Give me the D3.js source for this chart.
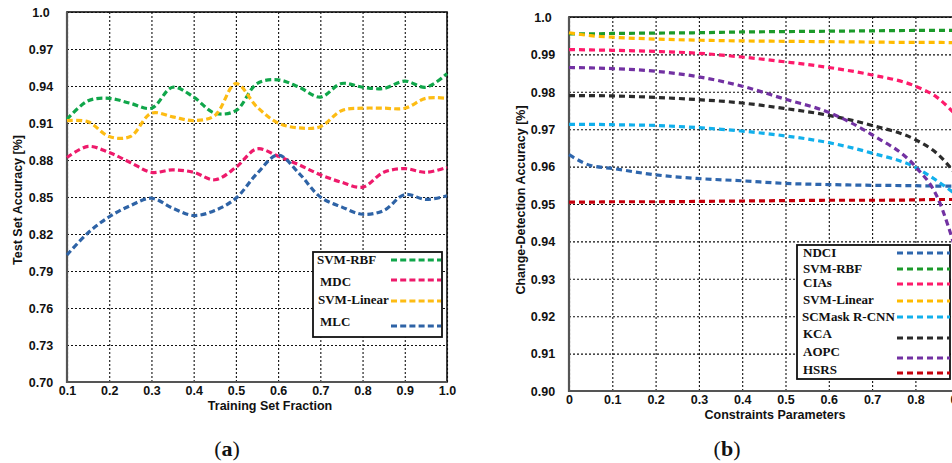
<html>
  <head>
    <style>
      body { margin: 0; background: #fff; }
      .tk { font-family: "Liberation Sans", Arial, sans-serif; font-weight: bold; font-size: 12.5px; fill: #111; }
      .ttl { font-family: "Liberation Sans", Arial, sans-serif; font-weight: bold; font-size: 12.5px; fill: #111; }
      .leg { font-family: "Liberation Serif", "Times New Roman", serif; font-weight: bold; font-size: 13px; fill: #111; }
      .cap { font-family: "Liberation Serif", "Times New Roman", serif; font-size: 22px; fill: #111; }
    </style>
  </head>
  <body>
    <svg id="chart" width="952" height="463"></svg>
    <script src="https://d3js.org/d3.v7.min.js"></script>
    <script>
    // ---- panel (a) data
    var fracA = [0.1, 0.15, 0.2, 0.25, 0.3, 0.35, 0.4, 0.45, 0.5, 0.55, 0.6, 0.65, 0.7, 0.75, 0.8, 0.85, 0.9, 0.95, 1.0];
    var svmRbfA = [0.913, 0.928, 0.930, 0.926, 0.922, 0.939, 0.931, 0.918, 0.920, 0.942, 0.945, 0.939, 0.931, 0.942, 0.939, 0.938, 0.944, 0.939, 0.950];
    var mdcA    = [0.882, 0.891, 0.886, 0.878, 0.870, 0.872, 0.870, 0.864, 0.874, 0.889, 0.883, 0.876, 0.868, 0.862, 0.858, 0.870, 0.873, 0.870, 0.874];
    var svmLinA = [0.912, 0.911, 0.899, 0.899, 0.918, 0.915, 0.912, 0.916, 0.942, 0.923, 0.910, 0.906, 0.907, 0.920, 0.922, 0.922, 0.922, 0.930, 0.930];
    var mlcA    = [0.803, 0.821, 0.834, 0.843, 0.849, 0.841, 0.835, 0.839, 0.849, 0.869, 0.884, 0.869, 0.850, 0.842, 0.836, 0.839, 0.852, 0.848, 0.851];
    var xTicksA = [0.1, 0.2, 0.3, 0.4, 0.5, 0.6, 0.7, 0.8, 0.9, 1.0];
    var yTicksA = [0.70, 0.73, 0.76, 0.79, 0.82, 0.85, 0.88, 0.91, 0.94, 0.97, 1.0];
    var namesA  = ["SVM-RBF", "MDC", "SVM-Linear", "MLC"];
    var colorsA = ["#10a64a", "#ee1a6b", "#fdbc14", "#2e63a6"];

    // ---- panel (b) data
    var paramB = [0, 0.05, 0.1, 0.2, 0.3, 0.4, 0.5, 0.6, 0.7, 0.8, 0.85, 0.9];
    var ndci    = [0.9632, 0.9603, 0.9595, 0.9578, 0.9568, 0.9562, 0.9555, 0.9552, 0.9550, 0.9549, 0.9548, 0.9548];
    var svmRbfB = [0.9955, 0.9955, 0.9956, 0.9957, 0.9958, 0.9960, 0.9961, 0.9962, 0.9963, 0.9964, 0.9964, 0.9964];
    var cias    = [0.9913, 0.9912, 0.9911, 0.9908, 0.9903, 0.9893, 0.9880, 0.9865, 0.9845, 0.9815, 0.9785, 0.9730];
    var svmLinB = [0.9958, 0.9950, 0.9946, 0.9941, 0.9938, 0.9936, 0.9935, 0.9934, 0.9933, 0.9932, 0.9932, 0.9931];
    var scmask  = [0.9713, 0.9713, 0.9712, 0.9710, 0.9704, 0.9695, 0.9682, 0.9664, 0.9636, 0.9598, 0.9562, 0.9520];
    var kca     = [0.9790, 0.9790, 0.9789, 0.9785, 0.9779, 0.9770, 0.9755, 0.9737, 0.9710, 0.9672, 0.9635, 0.9570];
    var aopc    = [0.9865, 0.9864, 0.9862, 0.9855, 0.9840, 0.9815, 0.9780, 0.9745, 0.9685, 0.9600, 0.9520, 0.9350];
    var hsrs    = [0.9505, 0.9505, 0.9506, 0.9506, 0.9507, 0.9508, 0.9509, 0.9510, 0.9510, 0.9511, 0.9512, 0.9512];
    var xTicksB = [0, 0.1, 0.2, 0.3, 0.4, 0.5, 0.6, 0.7, 0.8, 0.9];
    var yTicksB = [0.90, 0.91, 0.92, 0.93, 0.94, 0.95, 0.96, 0.97, 0.98, 0.99, 1.0];
    var namesB  = ["NDCI", "SVM-RBF", "CIAs", "SVM-Linear", "SCMask R-CNN", "KCA", "AOPC", "HSRS"];
    var colorsB = ["#2e66ad", "#1b9a2a", "#fe1b6b", "#ffbb00", "#12b0ec", "#2b2b2b", "#7231a2", "#c4000c"];

    var svg = d3.select("#chart");
    svg.append("rect").attr("width", 952).attr("height", 463).attr("fill", "#fff");

    function fmt(d) { return d === 1 ? "1.0" : d3.format(".2f")(d); }
    function fmtX(d) { return d === 0 ? "0" : d3.format(".1f")(d); }

    function panel(o) {
      var x = d3.scaleLinear().domain(o.xDomain).range([o.left, o.xEnd]);
      var y = d3.scaleLinear().domain(o.yDomain).range([o.bottom, o.top]);
      var g = svg.append("g");
      var w = o.xEnd - o.left, h = o.bottom - o.top;

      // grid via axes
      var gy = g.append("g").attr("transform", "translate(" + o.left + ",0)")
        .call(d3.axisLeft(y).tickValues(o.yTicks).tickSize(-w).tickFormat(fmt));
      var gx = g.append("g").attr("transform", "translate(0," + o.bottom + ")")
        .call(d3.axisBottom(x).tickValues(o.xTicks).tickSize(-h).tickFormat(o.xFmt));
      [gy, gx].forEach(function(a) {
        a.select(".domain").remove();
        a.selectAll(".tick line").attr("stroke", "#111").attr("stroke-width", 1.1).attr("stroke-dasharray", "2,2");
        a.selectAll(".tick text").attr("class", "tk");
      });
      gy.selectAll(".tick text").attr("x", o.yLabelX - o.left).attr("text-anchor", "middle").attr("dy", "0.35em");
      gx.selectAll(".tick text").attr("y", o.xLabelY - o.bottom).attr("dy", 0);

      // frame
      g.append("rect").attr("x", o.left).attr("y", o.top).attr("width", w).attr("height", h)
        .attr("fill", "none").attr("stroke", "#111").attr("stroke-width", 1.6);
      g.append("path").attr("d", "M" + o.left + "," + o.top + "V" + o.bottom + "H" + o.xEnd)
        .attr("fill", "none").attr("stroke", "#555").attr("stroke-width", 2.2);

      // series
      var line = d3.line().curve(o.curve)
        .x(function(d, i) { return x(o.xs[i]); })
        .y(function(d) { return y(d); });
      o.series.forEach(function(s, i) {
        g.append("path").datum(s).attr("d", line)
          .attr("fill", "none").attr("stroke", o.colors[i]).attr("stroke-width", 3.2)
          .attr("stroke-dasharray", o.dash);
      });

      // axis titles
      g.append("text").attr("class", "ttl").attr("text-anchor", "middle")
        .attr("x", o.xTitle[0]).attr("y", o.xTitle[1]).text(o.xTitleText);
      g.append("text").attr("class", "ttl").attr("text-anchor", "middle")
        .attr("transform", "translate(" + o.yTitle[0] + "," + o.yTitle[1] + ") rotate(-90)")
        .text(o.yTitleText);

      // legend
      var lg = g.append("g");
      lg.append("rect").attr("x", o.legBox[0]).attr("y", o.legBox[1]).attr("width", o.legBox[2]).attr("height", o.legBox[3])
        .attr("fill", "#fff").attr("stroke", "#111").attr("stroke-width", 1.8);
      o.names.forEach(function(n, i) {
        lg.append("text").attr("class", "leg").attr("x", o.legText[i][0]).attr("y", o.legText[i][1]).text(n);
        lg.append("line").attr("x1", o.legLine[0]).attr("x2", o.legLine[1])
          .attr("y1", o.legLineY[i]).attr("y2", o.legLineY[i])
          .attr("stroke", o.colors[i]).attr("stroke-width", 3.2).attr("stroke-dasharray", o.dash);
      });
    }

    panel({
      xDomain: [0.1, 1.0], yDomain: [0.70, 1.0], left: 67, xEnd: 447, top: 12, bottom: 382,
      xTicks: xTicksA, yTicks: yTicksA, xFmt: fmtX, yLabelX: 41, xLabelY: 395,
      xs: fracA, series: [svmRbfA, mdcA, svmLinA, mlcA], colors: colorsA,
      curve: d3.curveCatmullRom.alpha(0.5), dash: "6,3.2",
      xTitle: [270, 410], xTitleText: "Training Set Fraction",
      yTitle: [22, 200], yTitleText: "Test Set Accuracy [%]",
      names: namesA, legBox: [313, 252, 129, 85],
      legText: [[317, 264], [320, 286], [318, 304], [320, 326]],
      legLine: [391, 441], legLineY: [260, 280, 301, 326]
    });

    panel({
      xDomain: [0, 1.0], yDomain: [0.90, 1.0], left: 569, xEnd: 1002, top: 17, bottom: 391,
      xTicks: xTicksB, yTicks: yTicksB, xFmt: fmtX, yLabelX: 543, xLabelY: 404,
      xs: paramB, series: [ndci, svmRbfB, cias, svmLinB, scmask, kca, aopc, hsrs], colors: colorsB,
      curve: d3.curveMonotoneX, dash: "6,4",
      xTitle: [775, 419], xTitleText: "Constraints Parameters",
      yTitle: [525, 200], yTitleText: "Change-Detection Accuracy [%]",
      names: namesB, legBox: [797, 245, 153, 134],
      legText: [[803, 257], [803, 273], [803, 287], [803, 304], [802, 321], [803, 338], [803, 356], [803, 374]],
      legLine: [897, 950], legLineY: [253, 269, 284, 301, 317, 338, 358, 373]
    });

    // captions
    var capA = svg.append("text").attr("class", "cap").attr("x", 227).attr("y", 456).attr("text-anchor", "middle");
    capA.append("tspan").text("(");
    capA.append("tspan").attr("font-weight", "bold").text("a");
    capA.append("tspan").text(")");
    var capB = svg.append("text").attr("class", "cap").attr("x", 727).attr("y", 456).attr("text-anchor", "middle");
    capB.append("tspan").text("(");
    capB.append("tspan").attr("font-weight", "bold").text("b");
    capB.append("tspan").text(")");
    </script>
  </body>
</html>
